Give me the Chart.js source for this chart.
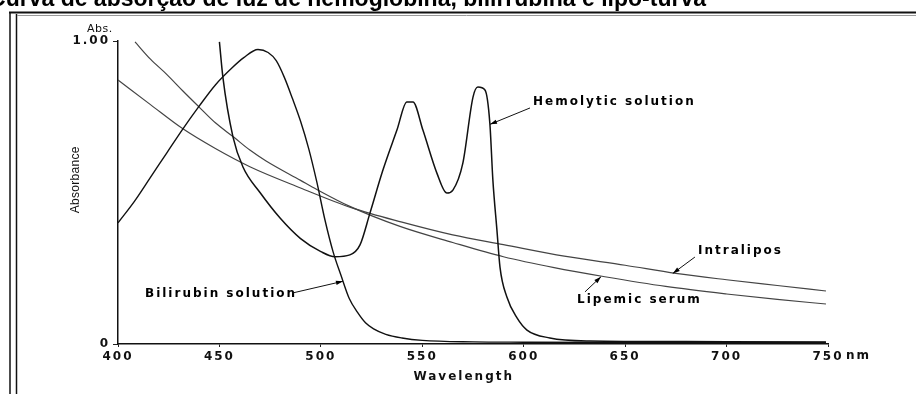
<!DOCTYPE html>
<html><head><meta charset="utf-8">
<script src="https://cdn.jsdelivr.net/npm/chart.js@4/dist/chart.umd.min.js"></script>
<style>html,body{margin:0;padding:0;background:#fff;overflow:hidden}canvas{display:block}</style>
</head><body>
<canvas id="c" width="918" height="394"></canvas>
<script>
// ---------- data ----------
const titleText = 'Curva de absorção de luz de hemoglobina, bilirrubina e lipo-turva';
const xTicks = [400, 450, 500, 550, 600, 650, 700, 750];
const yTicks = [0, 1];
const yTickLabels = ['0', '1.00'];

const bilirubinNm  = [400, 408, 416, 424, 432, 440, 448, 456, 462, 469, 474, 478, 482, 486, 490, 494, 498, 502, 506, 510, 514, 518, 522, 526, 532, 540, 550, 575, 600, 650, 700, 749];
const bilirubinAbs = [0.40, 0.47, 0.55, 0.63, 0.71, 0.785, 0.855, 0.91, 0.945, 0.972, 0.962, 0.935, 0.88, 0.81, 0.735, 0.645, 0.535, 0.41, 0.305, 0.225, 0.15, 0.105, 0.07, 0.05, 0.032, 0.02, 0.012, 0.007, 0.006, 0.005, 0.005, 0.005];

const hemolyticNm  = [450, 451.7, 456.7, 461.6, 470, 480, 490, 500, 507, 514.3, 519.3, 524.2, 530.6, 537.5, 542.4, 545.4, 550.3, 557.2, 562.1, 565.1, 570, 575, 577.4, 580.9, 583.3, 584.8, 586.8, 588.3, 591.7, 596.7, 601.6, 612.9, 632.6, 680, 749];
const hemolyticAbs = [0.997, 0.881, 0.683, 0.584, 0.50, 0.415, 0.348, 0.305, 0.288, 0.294, 0.327, 0.432, 0.574, 0.706, 0.799, 0.799, 0.706, 0.564, 0.498, 0.508, 0.597, 0.815, 0.848, 0.838, 0.729, 0.541, 0.376, 0.254, 0.155, 0.086, 0.046, 0.020, 0.010, 0.008, 0.007];

const intralipidNm  = [400, 416, 432, 448, 465, 490, 515, 540, 565, 590, 620, 650, 675, 700, 725, 749];
const intralipidAbs = [0.871, 0.79, 0.71, 0.645, 0.585, 0.515, 0.45, 0.402, 0.36, 0.328, 0.29, 0.26, 0.233, 0.212, 0.193, 0.175];

const lipemicNm  = [408.4, 416, 424, 432, 440, 448, 457, 465, 473, 490, 498, 514, 539, 565, 590, 615, 640, 670, 700, 725, 749];
const lipemicAbs = [0.997, 0.94, 0.89, 0.835, 0.782, 0.73, 0.683, 0.64, 0.604, 0.54, 0.51, 0.455, 0.388, 0.335, 0.288, 0.252, 0.222, 0.19, 0.165, 0.147, 0.132];

// annotation labels (data coordinates) and their pointer segments
const notes = [
  {text: 'Hemolytic solution', x: 604.6, y: 0.799, fx: 603.1, fy: 0.779, tx: 583.4, ty: 0.725},
  {text: 'Intralipos',         x: 685.9, y: 0.307, fx: 684.4, fy: 0.287, tx: 673.5, ty: 0.233},
  {text: 'Lipemic serum',      x: 626.3, y: 0.145, fx: 630.2, fy: 0.172, tx: 638.1, ty: 0.222},
  {text: 'Bilirubin solution', x: 413.3, y: 0.165, fx: 485.8, fy: 0.168, tx: 510.9, ty: 0.207}
];

const zip = (xs, ys) => xs.map((x, i) => ({x: x, y: ys[i]}));

// ---------- plugins ----------
const SPACING = '2px';
const spacingPlugin = {
  id: 'spacing',
  beforeLayout(chart) { chart.ctx.letterSpacing = SPACING; },
  beforeDraw(chart) {
    chart.ctx.letterSpacing = SPACING;
    const ys = chart.scales.y;
    if (ys && !ys._wrappedTitle) {
      const orig = ys.drawTitle.bind(ys);
      ys.drawTitle = function () {
        const c = this.ctx; const prev = c.letterSpacing;
        c.letterSpacing = '0.3px'; orig(); c.letterSpacing = prev;
      };
      ys._wrappedTitle = true;
    }
  }
};

const decorPlugin = {
  id: 'decor',
  afterDraw(chart) {
    const ctx = chart.ctx;
    const xs = chart.scales.x, ys = chart.scales.y;
    ctx.save();
    // frame
    ctx.strokeStyle = '#111';
    ctx.lineWidth = 2;
    ctx.beginPath(); ctx.moveTo(9, 12.5); ctx.lineTo(916, 12.5); ctx.stroke();
    ctx.lineWidth = 1.5;
    ctx.beginPath(); ctx.moveTo(10, 12); ctx.lineTo(10, 394); ctx.stroke();
    ctx.beginPath(); ctx.moveTo(16.5, 14); ctx.lineTo(16.5, 394); ctx.stroke();
    ctx.strokeStyle = '#999'; ctx.lineWidth = 1;
    ctx.beginPath(); ctx.moveTo(17, 15.5); ctx.lineTo(916, 15.5); ctx.stroke();

    // clipped title (only its lower part is inside the picture)
    ctx.letterSpacing = '0px';
    ctx.fillStyle = '#000';
    ctx.font = 'bold 23px "Liberation Sans", Arial, sans-serif';
    ctx.textAlign = 'right'; ctx.textBaseline = 'alphabetic';
    ctx.fillText(titleText, 706, 6);

    // "Abs." above the y axis
    ctx.letterSpacing = '0.5px';
    ctx.font = '11px "DejaVu Sans", sans-serif';
    ctx.fillStyle = '#111';
    ctx.textAlign = 'left'; ctx.textBaseline = 'middle';
    ctx.fillText('Abs.', 87, 29);

    // unit after last tick
    ctx.letterSpacing = '2px';
    ctx.font = 'bold 12px "DejaVu Sans", sans-serif';
    ctx.textBaseline = 'top';
    ctx.fillText('nm', 846, 350);

    // annotations
    ctx.textBaseline = 'middle';
    notes.forEach(n => {
      const px = xs.getPixelForValue(n.x), py = ys.getPixelForValue(n.y);
      ctx.fillStyle = '#000';
      ctx.fillText(n.text, px, py);
      const x1 = xs.getPixelForValue(n.fx), y1 = ys.getPixelForValue(n.fy);
      const x2 = xs.getPixelForValue(n.tx), y2 = ys.getPixelForValue(n.ty);
      ctx.strokeStyle = '#111'; ctx.lineWidth = 1;
      ctx.beginPath(); ctx.moveTo(x1, y1); ctx.lineTo(x2, y2); ctx.stroke();
      const a = Math.atan2(y2 - y1, x2 - x1), L = 7, W = 2.2;
      ctx.beginPath();
      ctx.moveTo(x2, y2);
      ctx.lineTo(x2 - L * Math.cos(a) + W * Math.sin(a), y2 - L * Math.sin(a) - W * Math.cos(a));
      ctx.lineTo(x2 - L * Math.cos(a) - W * Math.sin(a), y2 - L * Math.sin(a) + W * Math.cos(a));
      ctx.closePath(); ctx.fill();
    });
    ctx.restore();
  }
};

// ---------- chart ----------
const tickFont = {family: '"DejaVu Sans", sans-serif', size: 12, weight: 'bold'};
const lineDs = (label, nm, abs, color, width) => ({
  label: label, data: zip(nm, abs), borderColor: color, borderWidth: width,
  pointRadius: 0, fill: false, cubicInterpolationMode: 'monotone'
});

new Chart(document.getElementById('c'), {
  type: 'line',
  data: {
    datasets: [
      lineDs('Bilirubin solution', bilirubinNm, bilirubinAbs, '#111', 1.4),
      lineDs('Hemolytic solution', hemolyticNm, hemolyticAbs, '#111', 1.5),
      lineDs('Intralipos', intralipidNm, intralipidAbs, '#444', 1.2),
      lineDs('Lipemic serum', lipemicNm, lipemicAbs, '#444', 1.2)
    ]
  },
  options: {
    responsive: false,
    animation: false,
    devicePixelRatio: 1,
    layout: {padding: {top: 41, right: 90, left: 0, bottom: 0}},
    plugins: {legend: {display: false}, tooltip: {enabled: false}, title: {display: false}},
    scales: {
      x: {
        type: 'linear', position: 'bottom', min: 400, max: 750,
        afterBuildTicks: s => { s.ticks = xTicks.map(v => ({value: v})); },
        afterFit: s => { s.height = 50; },
        ticks: {font: tickFont, color: '#111', padding: 3, maxRotation: 0, autoSkip: false},
        grid: {display: true, drawOnChartArea: false, drawTicks: true, tickLength: 3, color: '#222'},
        border: {display: true, color: '#111', width: 1.5},
        title: {display: true, text: 'Wavelength\u00a0\u00a0\u00a0', color: '#111', font: tickFont, padding: {top: 0, bottom: 10}}
      },
      y: {
        type: 'linear', position: 'left', min: 0, max: 1,
        afterBuildTicks: s => { s.ticks = yTicks.map(v => ({value: v})); },
        afterFit: s => { s.width = 118; },
        ticks: {font: tickFont, color: '#111', padding: 3,
          callback: v => { const i = yTicks.indexOf(v); return i >= 0 ? yTickLabels[i] : ''; }},
        grid: {display: true, drawOnChartArea: false, drawTicks: true, tickLength: 5, color: '#222'},
        border: {display: true, color: '#111', width: 1.5},
        title: {display: true, text: '\u00a0\u00a0\u00a0\u00a0\u00a0\u00a0\u00a0Absorbance', color: '#111',
          font: {family: '"Liberation Sans Narrow", "Liberation Sans", Arial, sans-serif', size: 12},
          padding: {top: 68, bottom: 0}}
      }
    }
  },
  plugins: [spacingPlugin, decorPlugin]
});
</script>
</body></html>
